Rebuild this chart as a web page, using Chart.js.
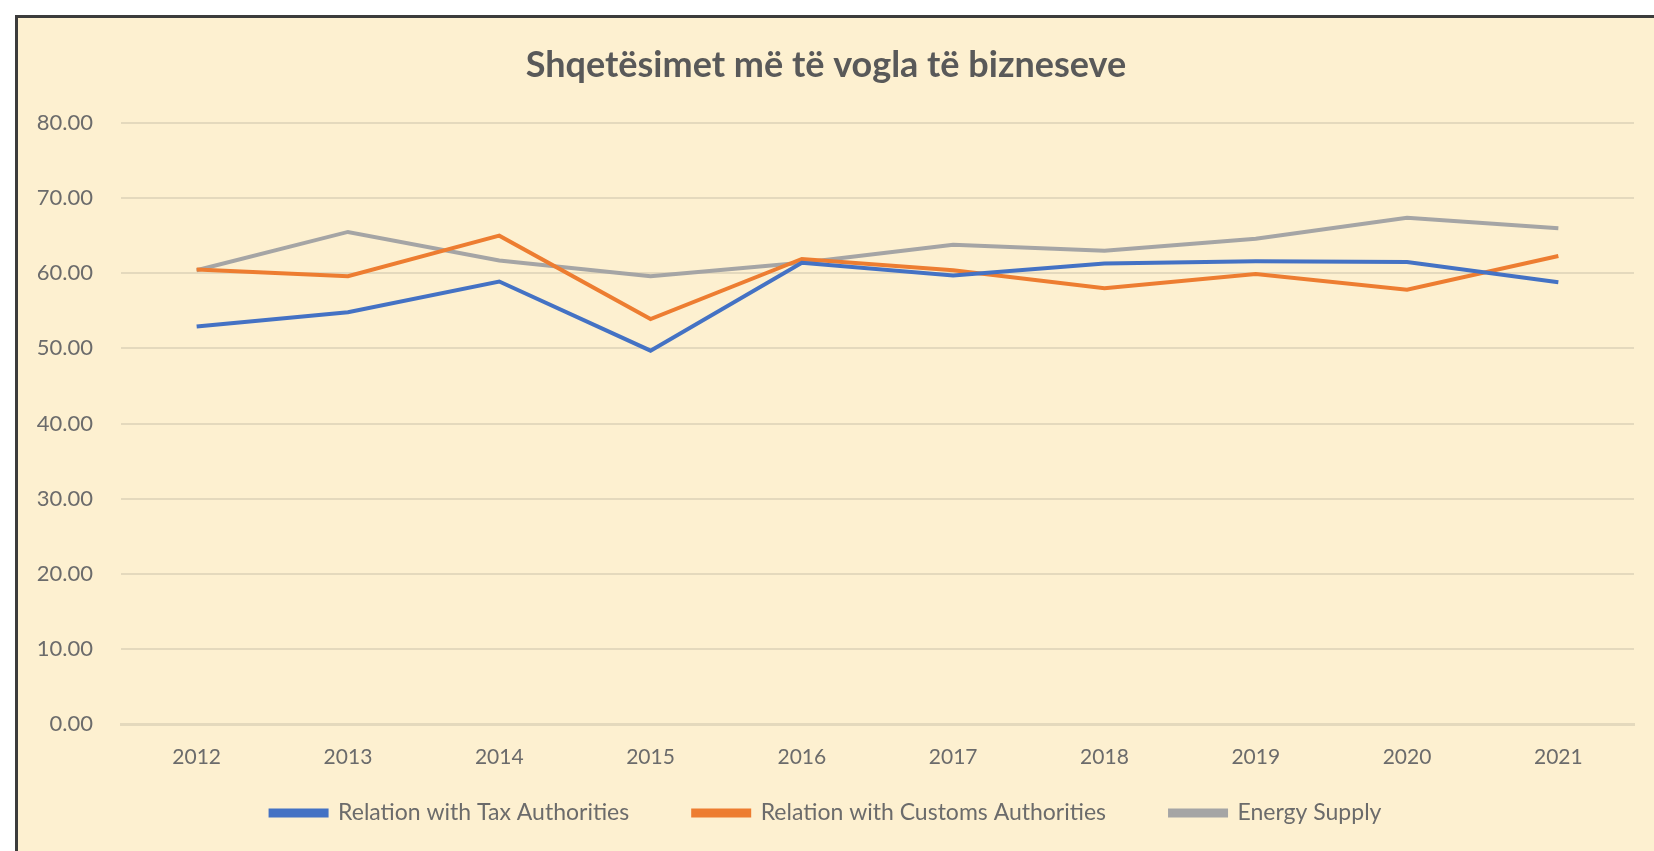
<!DOCTYPE html>
<html>
<head>
<meta charset="utf-8">
<script src="https://cdn.jsdelivr.net/npm/chart.js@4/dist/chart.umd.min.js"></script>
<style>
  body { margin: 0; background: #fff; overflow: hidden; }
  #frame {
    position: absolute; left: 15px; top: 15px;
    width: 1636px; height: 833px;
    border-left: 3px solid #3c3c3c; border-top: 3px solid #3c3c3c;
    background: #fdf0d0;
  }
</style>
</head>
<body>
<div id="frame"><canvas id="chart" width="1636" height="833"></canvas></div>
<script>
const years = ['2012', '2013', '2014', '2015', '2016', '2017', '2018', '2019', '2020', '2021'];
const taxAuthorities = [52.9, 54.8, 58.9, 49.7, 61.4, 59.7, 61.3, 61.6, 61.5, 58.8];
const customsAuthorities = [60.5, 59.6, 65.0, 53.9, 61.9, 60.4, 58.0, 59.9, 57.8, 62.3];
const energySupply = [60.4, 65.5, 61.7, 59.6, 61.4, 63.8, 63.0, 64.6, 67.4, 66.0];
const titleText = 'Shqetësimet më të vogla të bizneseve';

const textColor = '#6b6b6b';
const gridColor = '#e4d9bd';

const line = (label, data, color) => ({
  label: label,
  data: data,
  borderColor: color,
  backgroundColor: color,
  borderWidth: 4,
  pointRadius: 0,
  tension: 0,
});

new Chart(document.getElementById('chart'), {
  type: 'line',
  data: {
    labels: years,
    datasets: [
      line('Relation with Tax Authorities', taxAuthorities, '#4472c4'),
      line('Relation with Customs Authorities', customsAuthorities, '#ed7d31'),
      line('Energy Supply', energySupply, '#a5a5a5'),
    ],
  },
  options: {
    responsive: false,
    animation: false,
    layout: { padding: { top: 10, left: 0, right: 20, bottom: 16.5 } },
    plugins: {
      title: {
        display: true,
        text: titleText,
        color: '#595959',
        font: { family: 'Lato', size: 36, weight: 'bold' },
        padding: { top: 15.4, bottom: 36.4 },
      },
      legend: {
        position: 'bottom',
        labels: {
          boxWidth: 56,
          boxHeight: 5,
          padding: 64,
          color: textColor,
          font: { family: 'Lato', size: 23 },
        },
      },
      tooltip: { enabled: false },
    },
    scales: {
      x: {
        offset: true,
        grid: { display: false, drawTicks: false },
        border: { display: true, color: gridColor, width: 3 },
        // mirror + negative padding: labels sit below the axis without being clipped
        // to the (thin) scale box, which leaves room for the wide legend
        ticks: { color: textColor, mirror: true, padding: -45.6, font: { family: 'Lato', size: 21 } },
        afterFit: (scale) => { scale.height = 13.5; },
      },
      y: {
        min: 0,
        max: 80,
        grid: { color: gridColor, lineWidth: 2, drawTicks: false },
        border: { display: false },
        ticks: {
          stepSize: 10,
          color: textColor,
          padding: 28,
          font: { family: 'Lato', size: 22 },
          callback: (v) => v.toFixed(2),
        },
        afterFit: (scale) => { scale.width = 103; },
      },
    },
  },
});
</script>
</body>
</html>
